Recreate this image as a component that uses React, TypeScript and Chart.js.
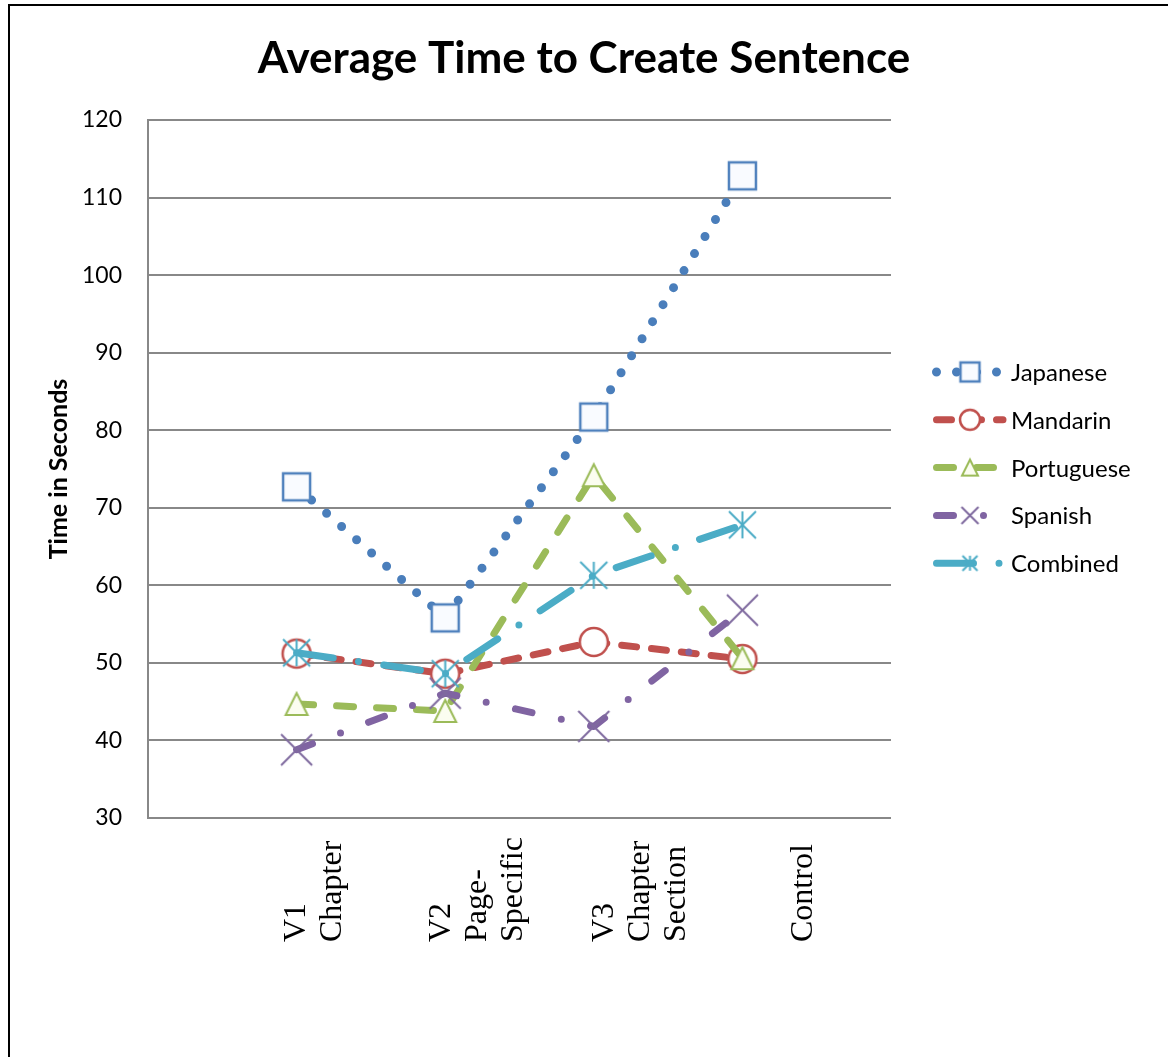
import React, { useEffect, useRef } from 'react';
import { Chart, registerables } from 'chart.js';

Chart.register(...registerables);

// ---- data ----
const chartTitle = 'Average Time to Create Sentence';
const yAxisTitle = 'Time in Seconds';
const categories = ['V1 Chapter', 'V2 Page-Specific', 'V3 Chapter Section', 'Control'];
const categoryLines = [['V1', 'Chapter'], ['V2', 'Page-', 'Specific'], ['V3', 'Chapter', 'Section'], ['Control']];
const seriesNames = ['Japanese', 'Mandarin', 'Portuguese', 'Spanish', 'Combined'];
const japanese = [72.7, 55.8, 81.7, 112.8];
const mandarin = [51.2, 48.6, 52.7, 50.5];
const portuguese = [44.7, 43.8, 74.2, 50.6];
const spanish = [38.8, 46.1, 41.8, 56.8];
const combined = [51.3, 48.6, 61.3, 67.8];
const yMin = 30;
const yMax = 120;
const yStep = 10;

// ---- styles ----
const FONT = 'Lato';
const colors = ['#4a7ebb', '#c0504d', '#9bbb59', '#8064a2', '#4bacc6'];
const dashes = [[0, 20], [15, 15], [17, 23], [17, 30, 0, 30], [37, 25.5, 0, 25.5]];
const widths = [9, 7, 7, 7, 7];
type MarkerSpec = { kind: string; size: number; stroke: string; fill: string; lw: number };
const markerSpecs: MarkerSpec[] = [
  { kind: 'square', size: 27, stroke: '#4f81bd', fill: '#f9fbff', lw: 2.5 },
  { kind: 'circle', size: 28, stroke: '#c0504d', fill: '#ffffff', lw: 2.5 },
  { kind: 'triangle', size: 22, stroke: '#9bbb59', fill: '#fbfdf0', lw: 2 },
  { kind: 'x', size: 31, stroke: '#7f6a9f', fill: '', lw: 2 },
  { kind: 'star', size: 27, stroke: '#4bacc6', fill: '', lw: 2 },
];
const legendMarkerSizes = [19, 20, 16, 17, 15];

function makeMarker(spec: MarkerSpec, size: number) {
  const pad = Math.ceil(spec.lw) + 2;
  const dim = Math.ceil(size + pad * 2);
  const cv = document.createElement('canvas');
  cv.width = dim;
  cv.height = dim;
  const ctx = cv.getContext('2d')!;
  const c = dim / 2;
  const h = size / 2;
  ctx.lineWidth = spec.lw;
  ctx.strokeStyle = spec.stroke;
  ctx.fillStyle = spec.fill || 'transparent';
  ctx.lineCap = 'butt';
  ctx.beginPath();
  if (spec.kind === 'square') {
    ctx.rect(c - h, c - h, size, size);
    ctx.fill();
    ctx.stroke();
  } else if (spec.kind === 'circle') {
    ctx.arc(c, c, h, 0, Math.PI * 2);
    ctx.fill();
    ctx.stroke();
  } else if (spec.kind === 'triangle') {
    ctx.moveTo(c, c - h);
    ctx.lineTo(c + h, c + h);
    ctx.lineTo(c - h, c + h);
    ctx.closePath();
    ctx.fill();
    ctx.stroke();
  } else if (spec.kind === 'x') {
    ctx.moveTo(c - h, c - h);
    ctx.lineTo(c + h, c + h);
    ctx.moveTo(c + h, c - h);
    ctx.lineTo(c - h, c + h);
    ctx.stroke();
  } else if (spec.kind === 'star') {
    ctx.moveTo(c - h, c - h);
    ctx.lineTo(c + h, c + h);
    ctx.moveTo(c + h, c - h);
    ctx.lineTo(c - h, c + h);
    ctx.moveTo(c, c - h);
    ctx.lineTo(c, c + h);
    ctx.stroke();
  }
  return cv;
}

export default function App() {
  const ref = useRef<HTMLCanvasElement>(null);

  useEffect(() => {
    const canvas = ref.current;
    if (!canvas) return;
    const seriesValues = [japanese, mandarin, portuguese, spanish, combined];
    const markers = markerSpecs.map((s) => makeMarker(s, s.size));
    const legendMarkers = markerSpecs.map((s, i) => makeMarker(s, legendMarkerSizes[i]));
    const labels = ['', ...categories, ''];

    const datasets = seriesNames.map((name, i) => ({
      label: name,
      data: [null, ...seriesValues[i], null] as (number | null)[],
      borderColor: colors[i],
      backgroundColor: colors[i],
      borderWidth: widths[i],
      borderDash: dashes[i],
      borderCapStyle: 'round' as const,
      borderJoinStyle: 'round' as const,
      pointStyle: markers[i] as any,
      pointRadius: 14,
      pointHoverRadius: 14,
      tension: 0,
      fill: false,
      order: seriesNames.length - i,
    }));

    const decor = {
      id: 'decor',
      beforeDraw(c: any) {
        const ctx = c.ctx as CanvasRenderingContext2D;
        ctx.save();
        ctx.fillStyle = '#000';
        ctx.fillRect(8, 4, c.width, 2);
        ctx.fillRect(8, 4, 2, c.height);
        ctx.font = `bold 44px ${FONT}`;
        ctx.textAlign = 'center';
        ctx.textBaseline = 'alphabetic';
        ctx.fillText(chartTitle, 584, 73);
        ctx.restore();
      },
      afterDraw(c: any) {
        const ctx = c.ctx as CanvasRenderingContext2D;
        const xs = c.scales.x;
        ctx.save();
        // category labels (rotated, the label block is spread wider than the points)
        ctx.font = '32px "Liberation Serif", "Times New Roman", serif';
        ctx.fillStyle = '#000';
        ctx.textAlign = 'left';
        ctx.textBaseline = 'middle';
        categoryLines.forEach((lines, i) => {
          const px = xs.getPixelForValue(i + 1);
          const center = px * 1.098 - 11.3;
          const n = lines.length;
          lines.forEach((t, j) => {
            const cx = center + (j - (n - 1) / 2) * 36;
            ctx.save();
            ctx.translate(cx, 942);
            ctx.rotate(-Math.PI / 2);
            ctx.fillText(t, 0, 0);
            ctx.restore();
          });
        });
        // legend
        seriesNames.forEach((name, i) => {
          const base = 381 + i * 47.8;
          const ly = base - 9;
          ctx.save();
          ctx.strokeStyle = colors[i];
          ctx.lineWidth = widths[i];
          ctx.lineCap = 'round';
          ctx.setLineDash(dashes[i]);
          ctx.beginPath();
          ctx.moveTo(936.5, ly);
          ctx.lineTo(1003, ly);
          ctx.stroke();
          ctx.restore();
          const m = legendMarkers[i];
          ctx.drawImage(m, 970 - m.width / 2, ly - m.height / 2);
          ctx.font = `24px ${FONT}`;
          ctx.fillStyle = '#000';
          ctx.textAlign = 'left';
          ctx.textBaseline = 'alphabetic';
          ctx.fillText(name, 1011, base);
        });
        ctx.restore();
      },
    };

    const titleSize = 25;
    const chart = new Chart(canvas, {
      type: 'line',
      data: { labels, datasets: datasets as any },
      options: {
        animation: false,
        responsive: false,
        events: [],
        layout: { padding: { left: 0, top: 120, right: 277, bottom: 239 } },
        plugins: {
          legend: { display: false },
          title: { display: false },
          tooltip: { enabled: false },
        },
        scales: {
          x: {
            type: 'category',
            offset: false,
            grid: { display: false },
            border: { display: false },
            ticks: { display: false },
            afterFit: (s: any) => {
              s.height = 0;
            },
          },
          y: {
            min: yMin,
            max: yMax,
            ticks: {
              stepSize: yStep,
              color: '#000',
              padding: 26,
              font: { family: FONT, size: 23 },
            },
            grid: { color: '#888888', lineWidth: 2, drawTicks: false },
            border: { color: '#888888', width: 2 },
            title: {
              display: true,
              text: yAxisTitle,
              color: '#000',
              font: { family: FONT, size: titleSize, weight: 'bold' },
              padding: { top: 59 - (titleSize * 1.2) / 2, bottom: 0 },
            },
            afterFit: (s: any) => {
              s.width = 148;
            },
          },
        },
      },
      plugins: [decor],
    });
    return () => chart.destroy();
  }, []);

  return (
    <canvas
      ref={ref}
      width={1168}
      height={1057}
      style={{ position: 'fixed', left: 0, top: 0, width: 1168, height: 1057, display: 'block' }}
    />
  );
}
